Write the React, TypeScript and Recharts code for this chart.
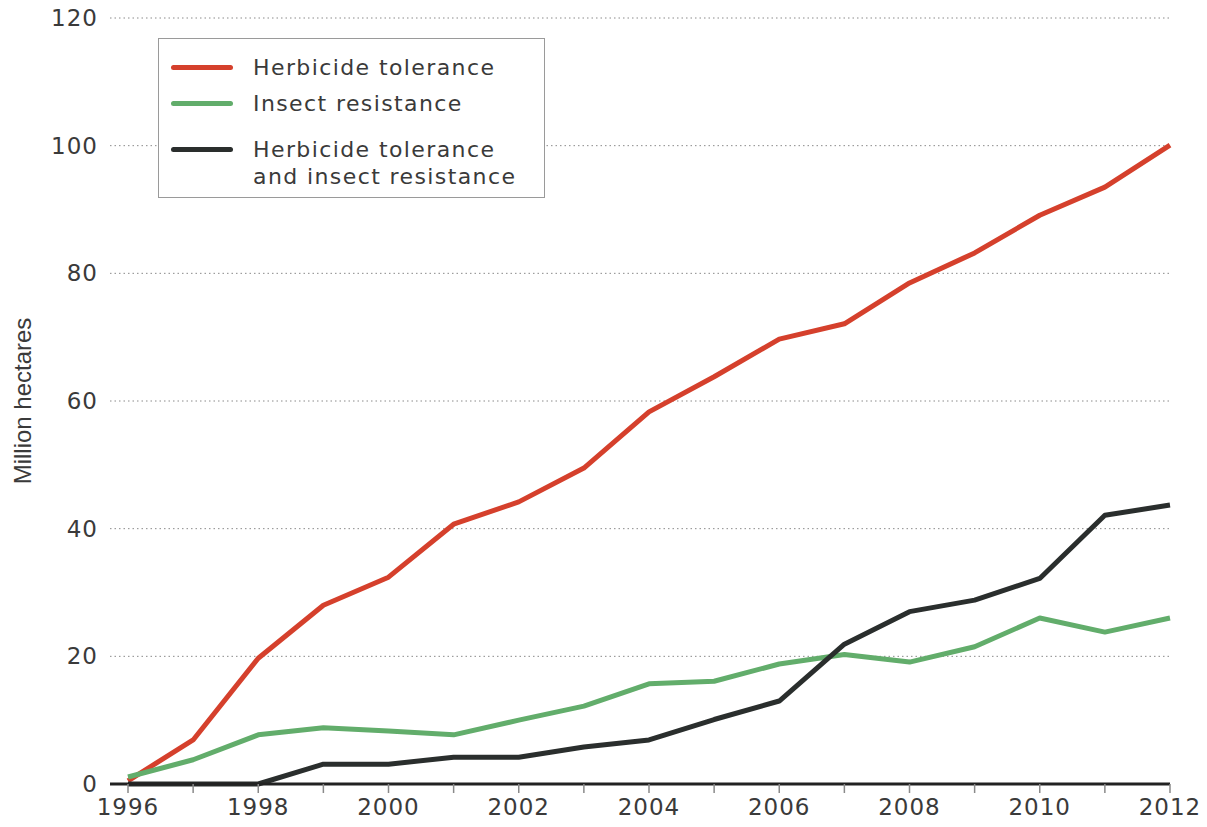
import { LineChart, Line, XAxis, YAxis, CartesianGrid, Legend } from 'recharts';

const years = [1996, 1997, 1998, 1999, 2000, 2001, 2002, 2003, 2004, 2005, 2006, 2007, 2008, 2009, 2010, 2011, 2012];
const herbicide = [0.5, 6.9, 19.7, 28, 32.4, 40.7, 44.2, 49.5, 58.3, 63.8, 69.7, 72.1, 78.5, 83.2, 89.1, 93.5, 100.1];
const insect = [1.1, 3.8, 7.7, 8.8, 8.3, 7.7, 10, 12.2, 15.7, 16.1, 18.8, 20.3, 19.1, 21.5, 26, 23.8, 26];
const stacked = [0, 0, 0, 3.1, 3.1, 4.2, 4.2, 5.8, 6.9, 10.1, 13, 21.9, 27, 28.8, 32.2, 42.1, 43.7];
const yTicks = [0, 20, 40, 60, 80, 100, 120];

const seriesNames = ['Herbicide tolerance', 'Insect resistance', 'Herbicide tolerance\nand insect resistance'];
const seriesColors = ['#d5402c', '#62ad6b', '#2a2e2d'];

const data = years.map((year, i) => ({
  year,
  herbicide: herbicide[i],
  insect: insect[i],
  stacked: stacked[i],
}));

const font = '"DejaVu Sans", sans-serif';
const itemGaps = [15, 9, 19];
const tickStyle = { fill: '#3a3a3a', fontSize: 23, fontFamily: font, letterSpacing: 1 };

const LegendBox = ({ payload }: any) => {
  // keep the series order, not the alphabetical one
  const items = [...(payload || [])].sort(
    (a: any, b: any) => seriesNames.indexOf(a.value) - seriesNames.indexOf(b.value)
  );
  return (
    <div
      style={{
        width: 387,
        height: 160,
        boxSizing: 'border-box',
        border: '1.5px solid #9a9a9a',
        background: '#fff',
        fontFamily: font,
        fontSize: 22,
        letterSpacing: 1.4,
        color: '#3a3a3a',
      }}
    >
      {items.map((entry: any, i: number) => (
        <div key={entry.value} style={{ display: 'flex', alignItems: 'flex-start', marginTop: itemGaps[i] }}>
          <div
            style={{
              width: 62,
              height: 5,
              borderRadius: 3,
              background: entry.color,
              marginLeft: 12,
              marginRight: 20,
              marginTop: 11,
            }}
          />
          <div style={{ whiteSpace: 'pre-line', lineHeight: '27px' }}>{entry.value}</div>
        </div>
      ))}
    </div>
  );
};

const App = () => {
  return (
    <div style={{ position: 'absolute', left: 0, top: 0, background: '#fff' }}>
      <LineChart width={1207} height={827} data={data} margin={{ top: 18, right: 37, bottom: 0, left: 50 }}>
        <CartesianGrid vertical={false} stroke="#8a8a8a" strokeDasharray="1.5 3" />
        <XAxis
          dataKey="year"
          type="number"
          domain={[1996, 2012]}
          ticks={years}
          interval={0}
          padding={{ left: 18, right: 0 }}
          tickFormatter={(v: number) => (v % 2 === 0 ? String(v) : '')}
          axisLine={{ stroke: '#222', strokeWidth: 3 }}
          tickLine={{ stroke: '#8a8a8a', strokeWidth: 1.5 }}
          tickSize={9}
          tickMargin={6}
          height={43}
          tick={tickStyle}
        />
        <YAxis
          domain={[0, 120]}
          ticks={yTicks}
          interval={0}
          width={60}
          axisLine={false}
          tickLine={false}
          tickSize={0}
          tickMargin={12}
          tick={tickStyle}
          label={{
            value: 'Million hectares',
            angle: -90,
            position: 'insideLeft',
            offset: -28,
            style: { fill: '#3a3a3a', fontSize: 24, fontFamily: '"Liberation Sans Narrow", "Liberation Sans", sans-serif', textAnchor: 'middle' },
          }}
        />
        <Legend
          verticalAlign="middle"
          align="center"
          content={<LegendBox />}
          wrapperStyle={{ left: 158, top: 38, width: 387, height: 160 }}
        />
        <Line dataKey="herbicide" name={seriesNames[0]} stroke={seriesColors[0]} strokeWidth={5} dot={false} isAnimationActive={false} strokeLinejoin="round" />
        <Line dataKey="insect" name={seriesNames[1]} stroke={seriesColors[1]} strokeWidth={5} dot={false} isAnimationActive={false} strokeLinejoin="round" />
        <Line dataKey="stacked" name={seriesNames[2]} stroke={seriesColors[2]} strokeWidth={5} dot={false} isAnimationActive={false} strokeLinejoin="round" />
      </LineChart>
    </div>
  );
};

export default App;
